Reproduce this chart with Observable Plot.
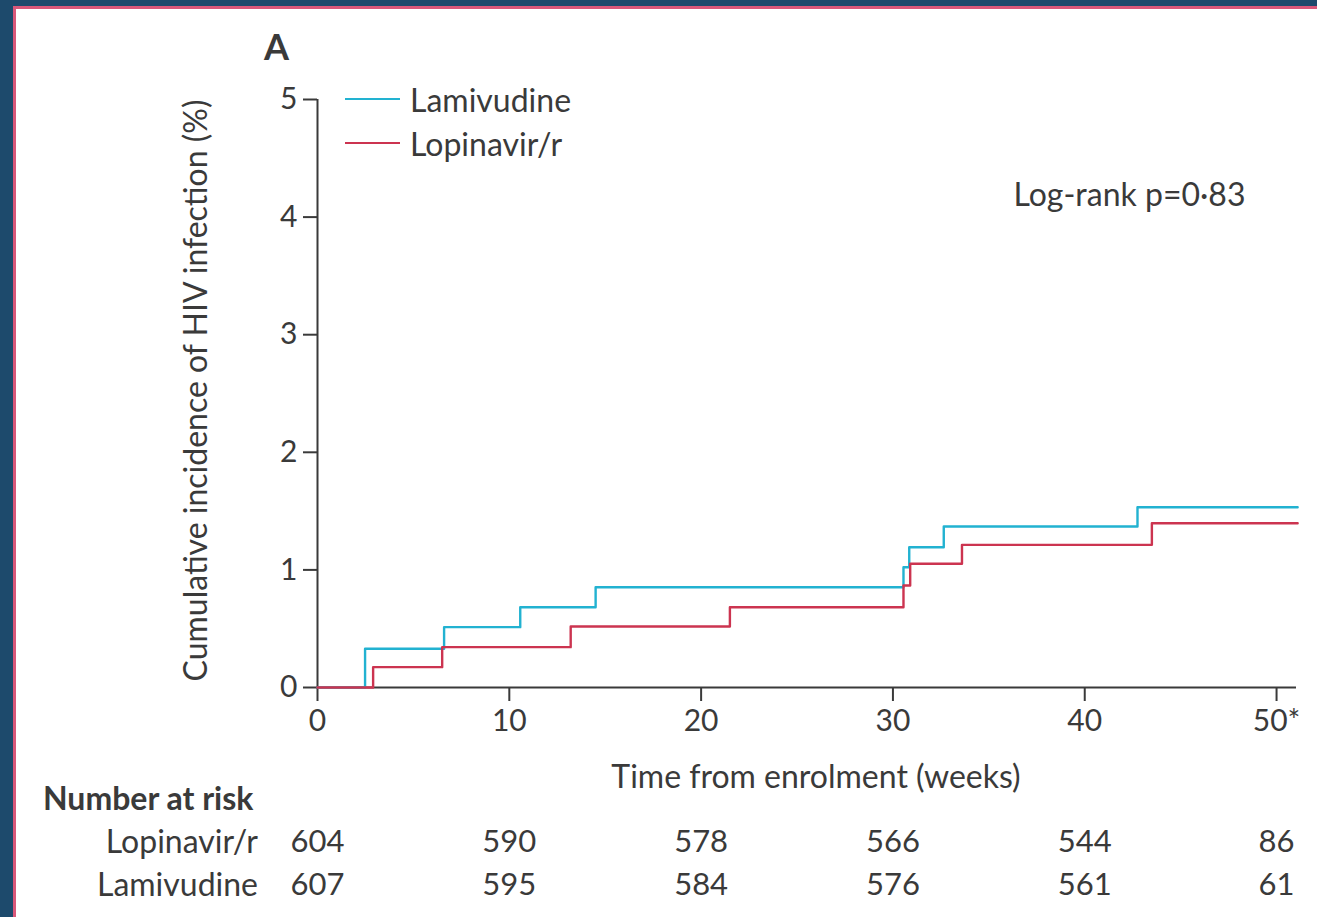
<!DOCTYPE html>
<html>
<head>
<meta charset="utf-8">
<script src="https://cdn.jsdelivr.net/npm/d3@7"></script>
<script src="https://cdn.jsdelivr.net/npm/@observablehq/plot@0.6"></script>
<style>
  html, body { margin: 0; padding: 0; }
  body { width: 1317px; height: 917px; background: #1d4a6c; position: relative; overflow: hidden; font-family: Lato, "Open Sans", sans-serif; }
  #panel { position: absolute; left: 13px; top: 6px; right: 0; bottom: 0; background: #fff; border-left: 3px solid #d9587a; border-top: 3px solid #d9587a; }
  #chart { position: absolute; left: 0; top: 0; }
  .lbl { position: absolute; color: #3a3a3a; white-space: nowrap; line-height: 1; }
  .leg { position: absolute; display: flex; align-items: center; color: #3a3a3a; font-size: 32px; }
  .leg span.sw { display: inline-block; width: 55px; height: 2.5px; margin-right: 10px; }
</style>
</head>
<body>
<div id="panel"></div>
<div id="chart"></div>
<script>
// ---- data ----
const weeks = [0, 10, 20, 30, 40, 50];
const tickLabels = ["0", "10", "20", "30", "40", "50*"];
const yTicks = [0, 1, 2, 3, 4, 5];

const lamivudineTime  = [0, 2.48, 6.6, 10.57, 14.5, 30.55, 30.85, 32.65, 42.75, 51.1];
const lamivudineValue = [0, 0.33, 0.513, 0.683, 0.853, 1.023, 1.193, 1.369, 1.533, 1.533];
const lopinavirTime   = [0, 2.9, 6.5, 13.2, 21.5, 30.55, 30.9, 33.6, 43.5, 51.1];
const lopinavirValue  = [0, 0.173, 0.343, 0.519, 0.683, 0.867, 1.052, 1.213, 1.397, 1.397];

const lopinavirRisk  = [604, 590, 578, 566, 544, 86];
const lamivudineRisk = [607, 595, 584, 576, 561, 61];

const seriesNames = ["Lamivudine", "Lopinavir/r"];
const seriesColors = ["#22b2d1", "#cc3450"];

// ---- build tables ----
const curves = [
  ...lamivudineTime.map((t, i) => ({group: "Lamivudine", t, v: lamivudineValue[i]})),
  ...lopinavirTime.map((t, i) => ({group: "Lopinavir/r", t, v: lopinavirValue[i]}))
];
const riskLop = weeks.map((w, i) => ({w, n: lopinavirRisk[i]}));
const riskLam = weeks.map((w, i) => ({w, n: lamivudineRisk[i]}));

const ink = "#3a3a3a";
const font = "Lato, 'Open Sans', sans-serif";

const plot = Plot.plot({
  width: 1317,
  height: 917,
  marginLeft: 317,
  marginRight: 21,
  marginTop: 99,
  marginBottom: 230,
  style: {background: "transparent", color: ink, fontFamily: font, overflow: "visible"},
  x: {domain: [0, 51.04]},
  y: {domain: [0, 5]},
  color: {domain: seriesNames, range: seriesColors},
  marks: [
    Plot.ruleX([0], {stroke: ink, strokeWidth: 2}),
    Plot.ruleY([0], {stroke: ink, strokeWidth: 2}),
    Plot.axisY({ticks: yTicks, tickSize: 14, tickPadding: 6, strokeWidth: 2, stroke: ink, fontSize: 30, label: null,
      tickFormat: (d) => String(d)}),
    Plot.axisX({ticks: weeks, tickSize: 14, tickPadding: 8, strokeWidth: 2, stroke: ink, fontSize: 30, label: null,
      tickFormat: (d) => tickLabels[weeks.indexOf(d)]}),
    Plot.line(curves, {x: "t", y: "v", z: "group", stroke: "group", curve: "step-after", strokeWidth: 2.4}),
    Plot.text(["Cumulative incidence of HIV infection (%)"], {frameAnchor: "left", textAnchor: "middle", lineAnchor: "middle",
      dx: -121, dy: -3, rotate: -90, fontSize: 32, fill: ink}),
    Plot.text(["Time from enrolment (weeks)"], {frameAnchor: "bottom", lineAnchor: "middle", dx: 9, dy: 90, fontSize: 32, fill: ink}),
    Plot.text(["Log-rank p=0·83"], {frameAnchor: "top-right", textAnchor: "start", lineAnchor: "middle", dx: -283, dy: 96, fontSize: 32, fill: ink}),
    Plot.text(riskLop, {x: "w", text: "n", frameAnchor: "bottom", lineAnchor: "middle", dy: 155, fontSize: 31, fill: ink}),
    Plot.text(riskLam, {x: "w", text: "n", frameAnchor: "bottom", lineAnchor: "middle", dy: 198, fontSize: 31, fill: ink})
  ]
});
document.getElementById("chart").appendChild(plot);

// ---- non-data annotations ----
function label(text, css) {
  const d = document.createElement("div");
  d.className = "lbl";
  d.textContent = text;
  Object.assign(d.style, css);
  document.body.appendChild(d);
}
label("A", {left: "264px", top: "28px", fontSize: "36px", fontWeight: "700"});
label("Number at risk", {left: "43px", top: "782px", fontSize: "32px", fontWeight: "700"});
label("Lopinavir/r", {right: (1317 - 258) + "px", top: "825px", fontSize: "32px"});
label("Lamivudine", {right: (1317 - 258) + "px", top: "868px", fontSize: "32px"});

seriesNames.forEach((name, i) => {
  const row = document.createElement("div");
  row.className = "leg";
  row.style.left = "345px";
  row.style.top = (i === 0 ? 81 : 125) + "px";
  row.style.height = "36px";
  const sw = document.createElement("span");
  sw.className = "sw";
  sw.style.background = seriesColors[i];
  const t = document.createElement("span");
  t.textContent = name;
  row.appendChild(sw);
  row.appendChild(t);
  document.body.appendChild(row);
});
</script>
</body>
</html>
